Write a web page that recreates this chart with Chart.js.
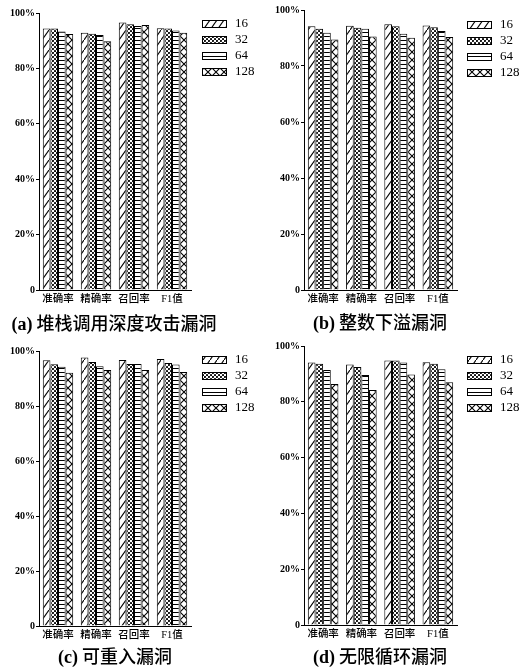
<!DOCTYPE html>
<html>
<head>
<meta charset="utf-8">
<script src="https://cdn.jsdelivr.net/npm/chart.js@4.4.1/dist/chart.umd.min.js"></script>
<style>
  html, body { margin: 0; padding: 0; background: #fff; }
  #wrap { position: relative; width: 519px; height: 672px; overflow: hidden; background: #fff; }
  #wrap canvas { position: absolute; left: 0; top: 0; pointer-events: none; }
  .cap {
    position: absolute; transform: translate(-50%, -50%); white-space: nowrap;
    font-family: 'Noto Sans CJK SC', sans-serif; font-size: 18px; font-weight: 500;
    color: #000; line-height: 1;
  }
  .cap b { font-family: 'Liberation Serif', serif; font-weight: bold; }
</style>
</head>
<body>
<div id="wrap">
  <canvas id="chartA" width="519" height="672"></canvas>
  <canvas id="chartB" width="519" height="672"></canvas>
  <canvas id="chartC" width="519" height="672"></canvas>
  <canvas id="chartD" width="519" height="672"></canvas>
  <div class="cap" style="left:114px; top:323px;"><b>(a)</b> 堆栈调用深度攻击漏洞</div>
  <div class="cap" style="left:380px; top:322px;"><b>(b)</b> 整数下溢漏洞</div>
  <div class="cap" style="left:115px; top:656px;"><b>(c)</b> 可重入漏洞</div>
  <div class="cap" style="left:380px; top:656px;"><b>(d)</b> 无限循环漏洞</div>
</div>
<script>
// Metrics on the x axis and the batch sizes compared in each panel
const categories = ['准确率', '精确率', '召回率', 'F1值'];
const seriesLabels = ['16', '32', '64', '128'];
const yTicks = [0, 20, 40, 60, 80, 100];

// One row per series (16, 32, 64, 128), one column per metric, in percent
const stackDepthValues = [
  [94.4, 92.9, 96.6, 94.5],
  [94.4, 92.5, 95.9, 94.4],
  [93.3, 92.1, 95.3, 93.7],
  [92.4, 89.8, 95.7, 92.9]
];
const underflowValues = [
  [94.2, 94.4, 94.9, 94.5],
  [93.3, 93.7, 94.2, 93.8],
  [91.9, 93.3, 91.5, 92.5],
  [89.5, 90.5, 90.1, 90.4]
];
const reentrancyValues = [
  [96.6, 97.6, 96.7, 97.1],
  [95.2, 96.0, 95.3, 95.6],
  [94.3, 94.5, 95.3, 95.1],
  [92.1, 93.1, 93.1, 92.4]
];
const infiniteLoopValues = [
  [94.1, 93.4, 94.8, 94.2],
  [93.6, 92.5, 94.8, 93.6],
  [91.4, 89.6, 94.1, 91.7],
  [86.4, 84.2, 89.8, 87.0]
];

// Hatch fills, one per series
function makePattern(kind) {
  const c = document.createElement('canvas');
  const g = c.getContext('2d');
  let w = 8, h = 8;
  if (kind === 'slash') { w = 7; h = 10; }
  if (kind === 'dots') { w = 4; h = 4; }
  if (kind === 'lines') { w = 4; h = 4; }
  c.width = w; c.height = h;
  g.fillStyle = '#fff';
  g.fillRect(0, 0, w, h);
  g.strokeStyle = '#000';
  g.fillStyle = '#000';
  g.lineWidth = 1.1;
  if (kind === 'slash') {
    g.beginPath();
    g.moveTo(-2, h + 2 * h / w);
    g.lineTo(w + 2, -2 * h / w);
    g.stroke();
  } else if (kind === 'dots') {
    g.beginPath(); g.arc(1, 1, 1.05, 0, Math.PI * 2); g.fill();
    g.beginPath(); g.arc(3, 3, 1.05, 0, Math.PI * 2); g.fill();
  } else if (kind === 'lines') {
    g.fillRect(0, 0, w, 1);
  } else if (kind === 'cross') {
    g.beginPath();
    g.moveTo(-2, -2); g.lineTo(w + 2, h + 2);
    g.moveTo(-2, h + 2); g.lineTo(w + 2, -2);
    g.stroke();
  }
  return g.createPattern(c, 'repeat');
}
const fills = [makePattern('slash'), makePattern('dots'), makePattern('lines'), makePattern('cross')];

// Legend drawn with the same fills as the bars
const hatchLegend = {
  id: 'hatchLegend',
  afterDraw(chart, args, opts) {
    const ctx = chart.ctx;
    chart.data.datasets.forEach((ds, i) => {
      const cy = opts.y + i * opts.gap;
      const x0 = Math.round(opts.x) + 0.5;
      const y0 = Math.round(cy - 3.5) + 0.5;
      ctx.save();
      ctx.fillStyle = ds.backgroundColor;
      ctx.fillRect(x0, y0, 24, 7);
      ctx.strokeStyle = '#000';
      ctx.lineWidth = 1;
      ctx.strokeRect(x0, y0, 24, 7);
      ctx.fillStyle = '#000';
      ctx.font = '13px "Liberation Serif", serif';
      ctx.textBaseline = 'middle';
      ctx.textAlign = 'left';
      ctx.fillText(ds.label, opts.x + 33, cy + 0.5);
      ctx.restore();
    });
  }
};

const CANVAS_W = 519, CANVAS_H = 672, Y_AXIS_W = 39, X_AXIS_H = 20;

function buildChart(id, values, area, legendPos) {
  new Chart(document.getElementById(id), {
    type: 'bar',
    data: {
      labels: categories,
      datasets: seriesLabels.map((name, i) => ({
        label: name,
        data: values[i],
        backgroundColor: fills[i],
        borderColor: '#000',
        borderWidth: 1,
        barPercentage: 1.0,
        categoryPercentage: 0.8
      }))
    },
    options: {
      responsive: false,
      animation: false,
      events: [],
      layout: {
        padding: {
          left: area.left - Y_AXIS_W,
          top: area.top,
          right: CANVAS_W - area.right,
          bottom: CANVAS_H - area.bottom - X_AXIS_H
        }
      },
      plugins: {
        legend: { display: false },
        title: { display: false },
        tooltip: { enabled: false },
        hatchLegend: legendPos
      },
      scales: {
        x: {
          grid: { display: false, drawTicks: false },
          border: { display: true, color: '#000', width: 1 },
          ticks: {
            color: '#000',
            padding: 3,
            maxRotation: 0,
            autoSkip: false,
            font: { family: "'Liberation Serif', 'Noto Sans CJK SC'", size: 10.5, weight: '500' }
          },
          afterFit: s => { s.height = X_AXIS_H; }
        },
        y: {
          min: 0,
          max: 100,
          afterBuildTicks: s => { s.ticks = yTicks.map(v => ({ value: v })); },
          grid: { drawOnChartArea: false, drawTicks: true, tickLength: 3, color: '#000' },
          border: { display: true, color: '#000', width: 1 },
          ticks: {
            color: '#000',
            padding: 1,
            font: { family: "'Liberation Serif', serif", size: 10, weight: 'bold' },
            callback: v => (v === 0 ? '0' : v + '%')
          },
          afterFit: s => { s.width = Y_AXIS_W; }
        }
      }
    },
    plugins: [hatchLegend]
  });
}

buildChart('chartA', stackDepthValues,   { left: 39,  top: 13,  right: 191, bottom: 290 }, { x: 202, y: 23.5,  gap: 16 });
buildChart('chartB', underflowValues,    { left: 304, top: 10,  right: 457, bottom: 290 }, { x: 467, y: 24,    gap: 16 });
buildChart('chartC', reentrancyValues,   { left: 39,  top: 351, right: 191, bottom: 626 }, { x: 202, y: 359.5, gap: 16 });
buildChart('chartD', infiniteLoopValues, { left: 304, top: 346, right: 457, bottom: 625 }, { x: 467, y: 359.5, gap: 16 });
</script>
</body>
</html>
